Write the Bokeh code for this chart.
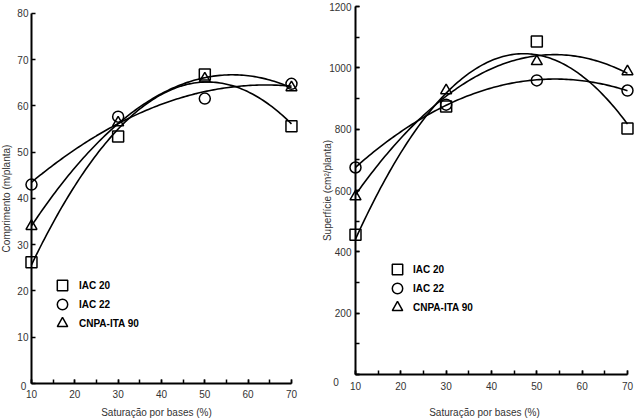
import numpy as np
from bokeh.plotting import figure
from bokeh.layouts import row
from bokeh.models import Range1d, SingleIntervalTicker, Label, Legend, LegendItem
from bokeh.embed import file_html
from bokeh.resources import INLINE

# ---------------- data ----------------
saturacao = [10, 30, 50, 70]
cultivares = ["IAC 20", "IAC 22", "CNPA-ITA 90"]
marcadores = ["square", "circle", "triangle"]

comprimento_iac20 = [26.2, 53.4, 66.8, 55.6]
comprimento_iac22 = [43.0, 57.7, 61.6, 64.8]
comprimento_cnpa = [34.0, 56.4, 65.9, 64.0]

superficie_iac20 = [456, 874, 1086, 802]
superficie_iac22 = [675, 880, 959, 926]
superficie_cnpa = [580, 926, 1021, 988]

x_title = "Saturação por bases (%)"
y_title_left = "Comprimento (m/planta)"
y_title_right = "Superfície (cm²/planta)"

FONT = "Liberation Sans"
TXT = "#333333"


def panel(width, x_range, y_range, y_top, y_interval, y_minor, series,
          y_title, ytitle_pos, xtitle_off, zero_off, ylab_standoff,
          legend_x, legend_ys, legend_standoff):
    p = figure(width=width, height=420, output_backend="svg", toolbar_location=None,
               x_range=Range1d(*x_range), y_range=Range1d(*y_range),
               min_border_left=0, min_border_right=0,
               min_border_top=0, min_border_bottom=0)
    p.outline_line_color = None
    p.grid.visible = False
    p.background_fill_color = "white"
    p.border_fill_color = "white"

    xa = p.xaxis[0]
    xa.fixed_location = 0
    xa.bounds = (10, 70)
    xa.ticker = SingleIntervalTicker(interval=10, num_minor_ticks=2)
    ya = p.yaxis[0]
    ya.fixed_location = 10
    ya.bounds = (0, y_top)
    ya.ticker = SingleIntervalTicker(interval=y_interval, num_minor_ticks=y_minor if y_minor else 2)
    if not y_minor:
        ya.minor_tick_line_color = None
    ya.major_label_overrides = {0: ""}
    ya.major_label_standoff = ylab_standoff
    xa.major_label_standoff = 7
    for ax in (xa, ya):
        ax.axis_line_width = 2
        ax.axis_line_color = "black"
        ax.major_tick_in = 4
        ax.major_tick_out = 0
        ax.minor_tick_in = 4
        ax.minor_tick_out = 0
        ax.major_tick_line_width = 1.5
        ax.minor_tick_line_width = 1.5
        ax.major_tick_line_color = "black"
        ax.minor_tick_line_color = "black" if ax is xa or y_minor else None
        ax.major_label_text_font = FONT
        ax.major_label_text_font_size = "10px"
        ax.major_label_text_color = TXT

    xs = np.linspace(10, 70, 121)
    for name, mk, ys, ly in zip(cultivares, marcadores, series, legend_ys):
        coef = np.polyfit(saturacao, ys, 2)
        p.line(xs, np.polyval(coef, xs), line_color="black", line_width=1.6)
        r = p.scatter(saturacao, ys, marker=mk, size=11, fill_color=None,
                      line_color="black", line_width=1.5)
        leg = Legend(items=[LegendItem(label=name, renderers=[r])], location=(legend_x, ly),
                     border_line_color=None, background_fill_alpha=0, padding=0, margin=0,
                     spacing=0, glyph_width=26, glyph_height=26, label_height=19,
                     label_standoff=legend_standoff, label_text_font=FONT,
                     label_text_font_size="10px", label_text_font_style="bold",
                     label_text_color="black")
        p.add_layout(leg, "center")

    p.add_layout(Label(x=10, y=ytitle_pos[1], x_offset=ytitle_pos[0], text=y_title, angle=np.pi / 2,
                       text_align="center", text_baseline="middle", text_font=FONT,
                       text_font_size="10px", text_color=TXT))
    p.add_layout(Label(x=40, y=0, x_offset=xtitle_off[0], y_offset=xtitle_off[1],
                       text=x_title, text_align="center", text_baseline="middle",
                       text_font=FONT, text_font_size="10px", text_color=TXT))
    p.add_layout(Label(x=10, y=0, x_offset=zero_off[0], y_offset=zero_off[1],
                       text="0", text_align="center", text_baseline="middle",
                       text_font=FONT, text_font_size="10px", text_color=TXT))
    return p


p1 = panel(320, (2.85, 76.7), (-8.0, 82.81), 80, 10, 0,
           [comprimento_iac20, comprimento_iac22, comprimento_cnpa],
           y_title_left, (-25, 40), (-5, -29), (-8, -2.5), 3,
           49, [122, 103, 84], 4)
p2 = panel(317, (2.28, 72.21), (-150, 1219.6), 1200, 200, 2,
           [superficie_iac20, superficie_iac22, superficie_cnpa],
           y_title_right, (-28, 600), (-7, -38), (-19.5, -7), 4,
           64, [138, 119, 100], 3)

layout = row(p1, p2)
open("out.html", "w").write(file_html(layout, INLINE))
